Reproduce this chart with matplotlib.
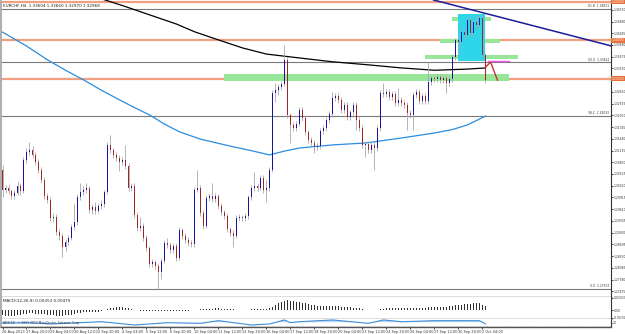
import matplotlib
matplotlib.use("Agg")
import matplotlib.pyplot as plt
from matplotlib.patches import Rectangle

W, H = 625, 334

# EURCHF H4 candles (26 Aug - 2 Oct 2013)
first_open = 1.3063
closes = [1.3011, 1.3016, 1.3008, 1.2995, 1.3003, 1.3021, 1.3008, 1.3089, 1.3109, 1.3115,
          1.3102, 1.3083, 1.3063, 1.3037, 1.2995, 1.2985, 1.2938, 1.2941, 1.2901, 1.2891,
          1.2862, 1.2875, 1.2886, 1.2914, 1.2927, 1.2992, 1.3005, 1.3011, 1.3016, 1.2959,
          1.2966, 1.2956, 1.2969, 1.2974, 1.3005, 1.3128, 1.3115, 1.3102, 1.3094, 1.3083,
          1.3089, 1.3073, 1.3016, 1.3021, 1.2946, 1.2912, 1.2917, 1.2886, 1.2860, 1.2818,
          1.2823, 1.2813, 1.2797, 1.2826, 1.2873, 1.2868, 1.2855, 1.2865, 1.2834, 1.2907,
          1.2891, 1.2881, 1.2873, 1.2870, 1.3011, 1.3016, 1.2951, 1.2917, 1.2990, 1.2995,
          1.2987, 1.2995, 1.2969, 1.2953, 1.2943, 1.2909, 1.2899, 1.2891, 1.2938, 1.2940,
          1.2938, 1.2943, 1.2992, 1.3016, 1.3021, 1.3016, 1.3042, 1.3011, 1.3016, 1.3063,
          1.3263, 1.3271, 1.3278, 1.3286, 1.3349, 1.3206, 1.3180, 1.3172, 1.3182, 1.3219,
          1.3198, 1.3161, 1.3141, 1.3133, 1.3122, 1.3125, 1.3164, 1.3172, 1.3193, 1.3208,
          1.3250, 1.3255, 1.3245, 1.3219, 1.3232, 1.3200, 1.3213, 1.3232, 1.3193, 1.3172,
          1.3128, 1.3130, 1.3115, 1.3128, 1.3120, 1.3172, 1.3263, 1.3260, 1.3265, 1.3252,
          1.3260, 1.3237, 1.3245, 1.3237, 1.3232, 1.3211, 1.3206, 1.3258, 1.3265, 1.3242,
          1.3255, 1.3242, 1.3291, 1.3302, 1.3299, 1.3304, 1.3296, 1.3302, 1.3289, 1.3299,
          1.3356, 1.3400, 1.3395, 1.3421, 1.3414, 1.3452, 1.3419, 1.3447, 1.3440, 1.3458,
          1.3361, 1.3296]
highs = [1.3076, 1.3024, 1.3027, 1.3014, 1.3011, 1.3034, 1.3029, 1.3096, 1.3120, 1.3135,
         1.3125, 1.3110, 1.3091, 1.3070, 1.3045, 1.3003, 1.2992, 1.2951, 1.2948, 1.2909,
         1.2898, 1.2883, 1.2894, 1.2922, 1.2975, 1.3000, 1.3029, 1.3020, 1.3029, 1.3022,
         1.2975, 1.2980, 1.2977, 1.2985, 1.3012, 1.3135, 1.3154, 1.3121, 1.3110, 1.3101,
         1.3097, 1.3128, 1.3080, 1.3029, 1.3028, 1.2953, 1.2940, 1.2924, 1.2893, 1.2866,
         1.2831, 1.2830, 1.2820, 1.2833, 1.2880, 1.2885, 1.2876, 1.2872, 1.2872, 1.2914,
         1.2913, 1.2898, 1.2888, 1.2880, 1.3018, 1.3063, 1.3024, 1.2958, 1.2997, 1.3003,
         1.3029, 1.3002, 1.3001, 1.2976, 1.2960, 1.2950, 1.2916, 1.2906, 1.2945, 1.2948,
         1.2947, 1.2950, 1.2999, 1.3023, 1.3057, 1.3029, 1.3049, 1.3050, 1.3037, 1.3070,
         1.3270, 1.3290, 1.3287, 1.3295, 1.3388, 1.3356, 1.3212, 1.3188, 1.3190, 1.3226,
         1.3226, 1.3205, 1.3168, 1.3148, 1.3140, 1.3132, 1.3171, 1.3180, 1.3200, 1.3215,
         1.3265, 1.3263, 1.3262, 1.3252, 1.3239, 1.3239, 1.3220, 1.3239, 1.3239, 1.3200,
         1.3179, 1.3137, 1.3137, 1.3135, 1.3135, 1.3179, 1.3270, 1.3289, 1.3272, 1.3272,
         1.3267, 1.3267, 1.3275, 1.3252, 1.3244, 1.3239, 1.3218, 1.3265, 1.3272, 1.3272,
         1.3262, 1.3262, 1.3343, 1.3309, 1.3309, 1.3311, 1.3311, 1.3309, 1.3309, 1.3306,
         1.3363, 1.3407, 1.3410, 1.3428, 1.3430, 1.3463, 1.3459, 1.3454, 1.3466, 1.3466,
         1.3465, 1.3368]
lows = [1.2992, 1.3003, 1.3000, 1.2987, 1.2988, 1.2997, 1.2998, 1.3003, 1.3081, 1.3101,
        1.3094, 1.3075, 1.3055, 1.3029, 1.2987, 1.2976, 1.2930, 1.2929, 1.2893, 1.2882,
        1.2836, 1.2853, 1.2867, 1.2880, 1.2908, 1.2920, 1.2985, 1.2998, 1.3004, 1.2950,
        1.2948, 1.2949, 1.2950, 1.2962, 1.2968, 1.3000, 1.3106, 1.3094, 1.3086, 1.3060,
        1.3075, 1.3065, 1.3009, 1.3008, 1.2939, 1.2904, 1.2905, 1.2878, 1.2852, 1.2810,
        1.2811, 1.2805, 1.2754, 1.2780, 1.2820, 1.2860, 1.2846, 1.2847, 1.2826, 1.2830,
        1.2884, 1.2873, 1.2866, 1.2862, 1.2864, 1.3005, 1.2944, 1.2910, 1.2912, 1.2982,
        1.2980, 1.2979, 1.2962, 1.2946, 1.2935, 1.2901, 1.2891, 1.2862, 1.2885, 1.2931,
        1.2930, 1.2931, 1.2936, 1.2985, 1.3009, 1.3008, 1.3010, 1.3004, 1.2979, 1.3008,
        1.3057, 1.3240, 1.3258, 1.3270, 1.3280, 1.3198, 1.3133, 1.3163, 1.3165, 1.3176,
        1.3191, 1.3154, 1.3134, 1.3125, 1.3107, 1.3114, 1.3118, 1.3157, 1.3165, 1.3186,
        1.3201, 1.3243, 1.3238, 1.3212, 1.3212, 1.3193, 1.3193, 1.3206, 1.3167, 1.3165,
        1.3121, 1.3096, 1.3108, 1.3108, 1.3063, 1.3113, 1.3165, 1.3252, 1.3253, 1.3245,
        1.3245, 1.3230, 1.3230, 1.3230, 1.3225, 1.3167, 1.3199, 1.3167, 1.3251, 1.3235,
        1.3235, 1.3235, 1.3235, 1.3284, 1.3292, 1.3292, 1.3289, 1.3289, 1.3263, 1.3282,
        1.3292, 1.3349, 1.3361, 1.3388, 1.3405, 1.3407, 1.3412, 1.3412, 1.3433, 1.3433,
        1.3355, 1.3290]

# moving averages, read at a few bars
ma_black_bars = [0, 20, 34, 40, 46, 52, 58, 64, 70, 80, 88, 100, 110, 122, 133, 144, 155, 161]
ma_black = [1.3609, 1.3551, 1.3505, 1.3490, 1.3474, 1.3458, 1.3442, 1.3422, 1.3406, 1.3380,
            1.3364, 1.3353, 1.3344, 1.3336, 1.3328, 1.3322, 1.3325, 1.3328]
ma_blue_bars = [0, 8, 15, 21, 27, 33, 39, 44, 49, 54, 59, 66, 72, 77, 83, 89, 94, 99,
                110, 121, 133, 144, 150, 155, 161]
ma_blue = [1.3421, 1.3385, 1.3349, 1.3322, 1.3297, 1.3270, 1.3245, 1.3225, 1.3206, 1.3182,
           1.3162, 1.3143, 1.3132, 1.3123, 1.3113, 1.3102, 1.3112, 1.3120,
           1.3128, 1.3133, 1.3146, 1.3159, 1.3168, 1.3180, 1.3203]

# MACD(12,26,9) main histogram
macd = [-0.0044, -0.0045, -0.0046, -0.0046, -0.0045, -0.0043, -0.0040, -0.0034, -0.0030, -0.0027,
        -0.0026, -0.0028, -0.0030, -0.0033, -0.0036, -0.0038, -0.0041, -0.0043, -0.0045, -0.0046,
        -0.0046, -0.0044, -0.0041, -0.0037, -0.0032, -0.0026, -0.0022, -0.0019, -0.0017, -0.0016,
        -0.0015, -0.0014, -0.0012, -0.0008, 0.0002, 0.0012, 0.0018, 0.0022, 0.0024, 0.0024,
        0.0023, 0.0021, 0.0015, 0.0010, 0.0004, -0.0002, -0.0006, -0.0008, -0.0010, -0.0011,
        -0.0010, -0.0009, -0.0008, -0.0007, -0.0006, -0.0005, -0.0005, -0.0004, -0.0004, -0.0003,
        -0.0003, -0.0003, -0.0003, -0.0002, -0.0002, 0.0002, 0.0006, 0.0008, 0.0010, 0.0012,
        0.0013, 0.0014, 0.0014, 0.0013, 0.0012, 0.0010, 0.0008, 0.0006, 0.0005, 0.0004,
        0.0004, 0.0004, 0.0005, 0.0006, 0.0007, 0.0008, 0.0009, 0.0009, 0.0010, 0.0014,
        0.0030, 0.0045, 0.0056, 0.0065, 0.0078, 0.0081, 0.0080, 0.0077, 0.0072, 0.0068,
        0.0063, 0.0058, 0.0052, 0.0046, 0.0041, 0.0037, 0.0034, 0.0032, 0.0031, 0.0031,
        0.0032, 0.0032, 0.0031, 0.0029, 0.0027, 0.0025, 0.0023, 0.0021, 0.0018, 0.0014,
        0.0009, 0.0005, 0.0002, 0.0001, 0.0001, 0.0003, 0.0008, 0.0012, 0.0015, 0.0017,
        0.0018, 0.0019, 0.0019, 0.0019, 0.0019, 0.0018, 0.0018, 0.0019, 0.0020, 0.0021,
        0.0021, 0.0022, 0.0024, 0.0026, 0.0027, 0.0028, 0.0029, 0.0030, 0.0030, 0.0031,
        0.0034, 0.0039, 0.0043, 0.0047, 0.0050, 0.0053, 0.0055, 0.0056, 0.0057, 0.0058,
        0.0045, 0.0035]

# lower oscillator (sampled)
osc_bars = [0, 9, 16, 33, 44, 55, 66, 72, 77, 83, 89, 94, 96, 99, 110, 122, 127, 133, 144, 155, 159, 161]
osc = [50, 54, 38, 66, 25, 54, 46, 79, 54, 25, 38, 88, 54, 66, 88, 46, 88, 66, 79, 79, 79, 38]

# drawn objects
round_levels = [1.3500, 1.3400, 1.3300]
fib_prices = [1.34811, 1.33422, 1.32033, 1.27537]
fib_names = ["61.8", "50.0", "38.2", "0.0"]
green_zones = [(74, 169, 1.3293, 1.3311), (146, 166, 1.3393, 1.3403),
               (141, 172, 1.3351, 1.3361), (150, 163, 1.3451, 1.3461)]
cyan_box = (152, 160.7, 1.3346, 1.3468)
trend_bars = [143.7, 203]
trend_prices = [1.35045, 1.3385]
zigzag_bars = [161, 162.7, 165]
zigzag_prices = [1.3330, 1.3343, 1.3296]
magenta_bars = [162, 168.7]
magenta_price = 1.3346

# the 1.32965 step sits under the orange 1.33000 tag, so it is not shown
price_labels = [1.34790, 1.34480, 1.34185, 1.33880, 1.33575, 1.33270, 1.32660,
                1.32355, 1.32050, 1.31745, 1.31440, 1.31135, 1.30830, 1.30525, 1.30220,
                1.29915, 1.29610, 1.29305, 1.29000, 1.28695, 1.28390, 1.28085, 1.27780,
                1.27475]
date_labels = ["26 Aug 2013", "27 Aug 20:00", "29 Aug 04:00", "30 Aug 12:00", "2 Sep 20:00",
               "4 Sep 04:00", "5 Sep 12:00", "6 Sep 20:00", "10 Sep 04:00", "11 Sep 12:00",
               "12 Sep 20:00", "16 Sep 04:00", "17 Sep 12:00", "18 Sep 20:00", "20 Sep 04:00",
               "23 Sep 12:00", "24 Sep 20:00", "26 Sep 04:00", "27 Sep 12:00", "30 Sep 20:00",
               "2 Oct 04:00"]

FS = 3.0      # panel captions
FS_AX = 2.2   # right-hand scale
FS_X = 2.5    # time scale
XMAX = -0.5 + 610 / 3.0


def rect(x0, y0, x1, y1):
    return [x0 / W, 1 - y1 / H, (x1 - x0) / W, (y1 - y0) / H]


fig = plt.figure(figsize=(W / 100, H / 100), dpi=100)
fig.patch.set_facecolor("white")

ax = fig.add_axes(rect(1, 0, 611, 297))
ax_macd = fig.add_axes(rect(1, 297, 611, 319), sharex=ax)
ax_osc = fig.add_axes(rect(1, 319, 611, 327), sharex=ax)

# --- main price panel ---
ax.set_xlim(-0.5, XMAX)
ax.set_ylim(1.27329, 1.35045)

for lv in round_levels:
    ax.axhline(lv, color="#F0A080", lw=1.6, zorder=1)
for fp, fn in zip(fib_prices, fib_names):
    ax.axhline(fp, color="#7a7a7a", lw=0.8, zorder=1)
    ax.text(XMAX - 0.6, fp + 0.0002, f"{fn}  {fp:.5f}", fontsize=FS_AX,
            ha="right", va="bottom", color="#333333")

for x0, x1, lo, hi in green_zones:
    ax.add_patch(Rectangle((x0, lo), x1 - x0, hi - lo, fc="#98E69A", ec="none", zorder=2))
cx0, cx1, clo, chi = cyan_box
ax.add_patch(Rectangle((cx0, clo), cx1 - cx0, chi - clo, fc="#2FD6EA", ec="none", zorder=2))

ax.plot(ma_black_bars, ma_black, color="black", lw=0.9, zorder=3)
ax.plot(ma_blue_bars, ma_blue, color="#2A8DE0", lw=0.9, zorder=3)

opens = [first_open] + closes[:-1]
for i, (o, h, l, c) in enumerate(zip(opens, highs, lows, closes)):
    ax.vlines(i, l, h, color="#a8a8a8", lw=0.6, zorder=4)
    up = c >= o
    ax.bar(i, max(abs(c - o), 0.00012), bottom=min(o, c), width=0.65,
           color="#1515A0" if up else "#A02525", lw=0, zorder=5)

ax.plot(trend_bars, trend_prices, color="#1C1C9A", lw=1.1, zorder=6)
ax.plot(zigzag_bars, zigzag_prices, color="#D22020", lw=0.9, zorder=6)
ax.plot(magenta_bars, [magenta_price] * 2, color="#EE55EE", lw=1.0, zorder=6)

ax.yaxis.tick_right()
ax.set_yticks(price_labels)
ax.set_yticklabels([f"{v:.5f}" for v in price_labels])
ax.tick_params(axis="y", labelsize=FS_AX, length=1.2, pad=0.6, width=0.5)
ax.tick_params(axis="x", bottom=False, labelbottom=False)
for lv in round_levels:
    ax.text(1.0015, lv, f"{lv:.5f}", transform=ax.get_yaxis_transform(), fontsize=FS_AX,
            color="white", va="center", ha="left", clip_on=False, zorder=10,
            bbox=dict(boxstyle="square,pad=0.2", fc="#E8703A", ec="none"))
ax.text(0.004, 0.988, "EURCHF,H4  1.33604 1.33660 1.32970 1.32968", transform=ax.transAxes,
        fontsize=FS, va="top", ha="left", color="#222222")

# --- MACD panel ---
ax_macd.set_ylim(-0.0074, 0.0110)
ax_macd.bar(range(len(macd)), macd, width=0.5, color="#303030", lw=0)
ax_macd.yaxis.tick_right()
ax_macd.set_yticks([0.0102, 0.0, -0.0062])
ax_macd.set_yticklabels(["0.01027", "0.00", "-0.0074"])
ax_macd.tick_params(axis="y", labelsize=FS_AX, length=1.2, pad=0.6, width=0.5)
ax_macd.tick_params(axis="x", bottom=False, labelbottom=False)
ax_macd.text(0.004, 0.92, "MACD(12,26,9) 0.00353 0.00479", transform=ax_macd.transAxes,
             fontsize=FS, va="top", ha="left", color="#222222")

# --- lower oscillator panel ---
ax_osc.set_ylim(0, 100)
ax_osc.plot(osc_bars, osc, color="#3C8DD8", lw=0.8)
ax_osc.fill_between(osc_bars, 60, osc, where=[v > 60 for v in osc], interpolate=True,
                    color="#BFD9F2", lw=0)
ax_osc.axhline(8, color="#999999", lw=0.5, ls=":")
ax_osc.yaxis.tick_right()
ax_osc.set_yticks([50])
ax_osc.set_yticklabels(["20"])
ax_osc.tick_params(axis="y", labelsize=FS_AX, length=1, pad=0.6, width=0.5)
ax_osc.text(0.004, 0.5, "ADX(14)  \u00a9 2001-2013 MetaQuotes Software Corp.",
            transform=ax_osc.transAxes, fontsize=FS_AX, va="center", ha="left",
            color="#223355")

ticks = list(range(0, 8 * len(date_labels), 8))
ax_osc.set_xticks(ticks)
ax_osc.set_xticklabels(date_labels, ha="left")
ax_osc.tick_params(axis="x", labelsize=FS_X, length=1.2, pad=0.8, width=0.5)

for a in (ax, ax_macd, ax_osc):
    a.set_facecolor("white")
    a.spines["top"].set_visible(False)
    a.spines["left"].set_color("#b0b0b0")
    a.spines["left"].set_linewidth(1.5)
    a.spines["right"].set_color("#333333")
    a.spines["right"].set_linewidth(0.8)
    a.spines["bottom"].set_color("#555555")
    a.spines["bottom"].set_linewidth(1.0)
    for t in a.get_yticklabels() + a.get_xticklabels():
        t.set_color("#333333")

fig.savefig("out.png", dpi=100)
